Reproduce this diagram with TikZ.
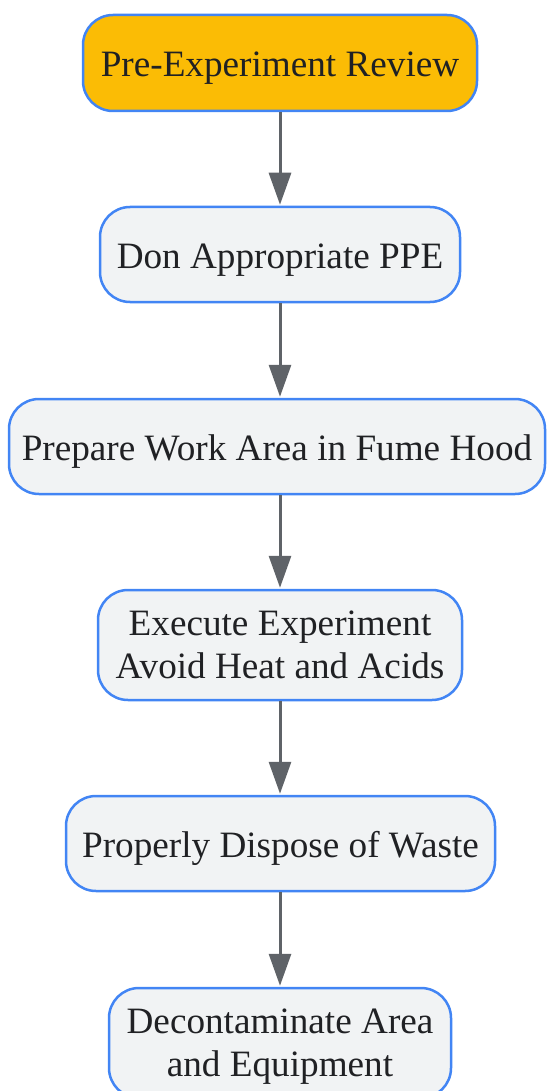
\documentclass[tikz,border=0pt]{standalone}
\usepackage{fontspec}
\setmainfont{Liberation Serif}
\usetikzlibrary{arrows.meta}
\definecolor{nodeblue}{HTML}{4285F4}
\definecolor{nodefill}{HTML}{F1F3F4}
\definecolor{startfill}{HTML}{FBBC05}
\definecolor{arrowgray}{HTML}{5F6368}
\definecolor{textdark}{HTML}{202124}
\tikzset{
  box/.style={draw=nodeblue, line width=2.5pt, fill=nodefill, rounded corners=30pt,
    inner sep=0pt, align=center, text=textdark, font=\fontsize{37.2}{43.3}\selectfont,
    text depth=-6pt},
  onebox/.style={box, text height=28pt, text depth=0pt},
  startbox/.style={onebox, fill=startfill},
  flow/.style={draw=arrowgray, line width=3pt, -{Triangle[length=32pt,width=22pt]}, shorten >=1pt}
}
\begin{document}
\begin{tikzpicture}[x=1pt,y=1pt]
\useasboundingbox (0,0) rectangle (547,-1091);
\clip (0,0) rectangle (547,-1091);
\node[startbox, minimum width=394pt, minimum height=96pt] (n1) at (280,-63) {Pre-Experiment Review};
\node[onebox, minimum width=360pt, minimum height=95pt] (n2) at (280,-254.5) {Don Appropriate PPE};
\node[onebox, minimum width=536pt, minimum height=95pt] (n3) at (277,-446.5) {Prepare Work Area in Fume Hood};
\node[box, minimum width=364pt, minimum height=110pt] (n4) at (280,-645) {Execute Experiment\\Avoid Heat and Acids};
\node[onebox, minimum width=429pt, minimum height=95pt] (n5) at (280.5,-843.5) {Properly Dispose of Waste};
\node[box, minimum width=342pt, minimum height=110pt] (n6) at (280,-1043) {Decontaminate Area\\and Equipment};
\draw[flow] (n1.south) -- (n2.north);
\draw[flow] (n2.south) -- (n3.north -| n2.south);
\draw[flow] (n3.south -| n2.south) -- (n4.north);
\draw[flow] (n4.south) -- (n5.north -| n4.south);
\draw[flow] (n5.south -| n4.south) -- (n6.north);
\end{tikzpicture}
\end{document}
